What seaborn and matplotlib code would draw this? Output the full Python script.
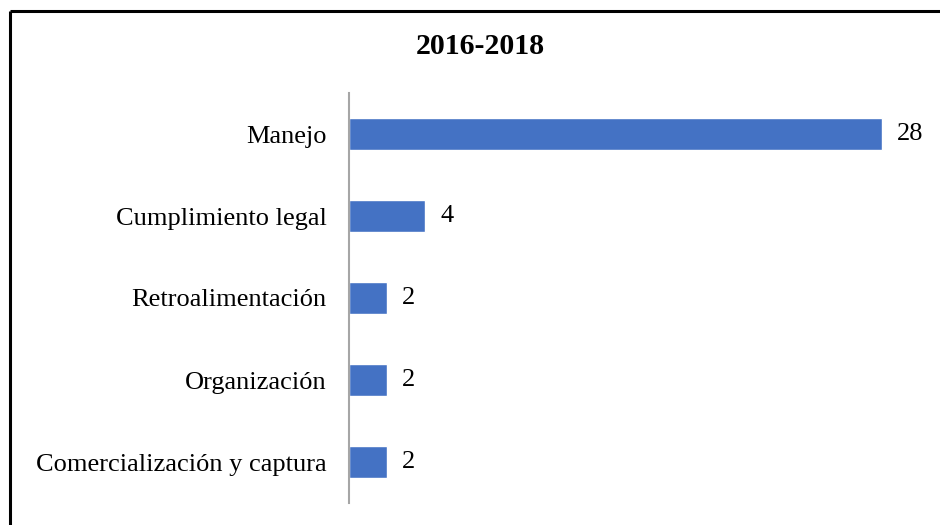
import matplotlib
matplotlib.use("Agg")
import matplotlib.pyplot as plt
from matplotlib.lines import Line2D
import seaborn as sns
import pandas as pd

categories = ["Manejo", "Cumplimiento legal", "Retroalimentación", "Organización",
              "Comercialización y captura"]
values = [28, 4, 2, 2, 2]
title = "2016-2018"

sns.set_theme(style="white")
plt.rcParams['font.family'] = ['Liberation Serif', 'DejaVu Serif']

df = pd.DataFrame({"cat": categories, "val": values})

fig = plt.figure(figsize=(9.4, 5.25), dpi=100)
ax = fig.add_axes([349/940, 1-503/525, (920-349)/940, (503-93)/525])
sns.barplot(data=df, x="val", y="cat", orient="h", color="#4472C4",
            saturation=1, width=0.39, ax=ax)

ax.set_xlim(0, 30)
ax.set_ylim(4.5, -0.5)
ax.set_xlabel("")
ax.set_ylabel("")
ax.set_xticks([])
for s in ["top", "right", "bottom"]:
    ax.spines[s].set_visible(False)
ax.spines["left"].set_color("#a6a6a6")
ax.spines["left"].set_linewidth(1.5)
ax.tick_params(axis="y", length=0, pad=16, labelsize=19, labelcolor="black")

for c in ax.containers:
    ax.bar_label(c, labels=[str(v) for v in values], padding=11, fontsize=19, color="black")

fig.text(480/940, 1-46/525, title, ha="center", va="center",
         fontsize=21.5, fontweight="bold", color="black")

# outer frame (left & top)
fig.add_artist(Line2D([10/940, 10/940], [0, 1-11/525], color="black", lw=2.2,
                      transform=fig.transFigure, solid_capstyle="butt"))
fig.add_artist(Line2D([10/940, 1], [1-11/525, 1-11/525], color="black", lw=2.2,
                      transform=fig.transFigure, solid_capstyle="butt"))

fig.savefig("out.png", dpi=100, facecolor="white")
